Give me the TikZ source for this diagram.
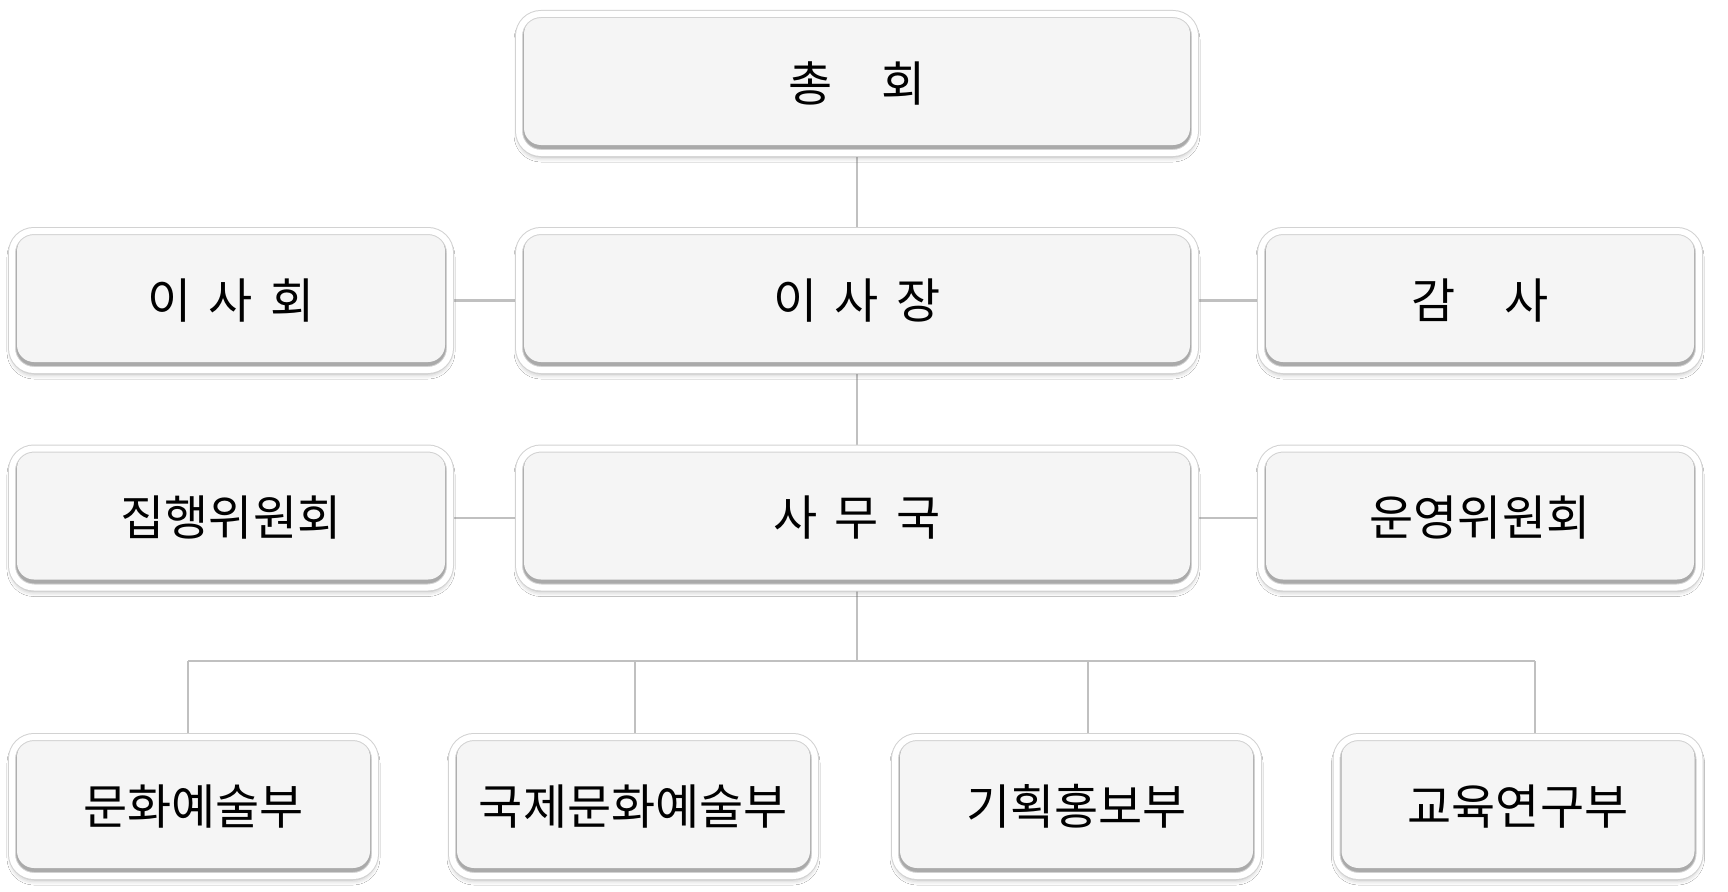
\documentclass[tikz,border=0pt]{standalone}
\usepackage{fontspec}
\newfontfamily\kr{Noto Sans CJK KR}[WordSpace=1.6]
\usetikzlibrary{shadows.blur,backgrounds}
\definecolor{boxfill}{RGB}{245,245,245}
\definecolor{linegray}{RGB}{192,192,192}
\definecolor{rimgray}{RGB}{210,210,210}
\definecolor{bevelgray}{RGB}{170,170,170}
\newcommand\orgfont{\kr\fontsize{48}{56}\selectfont}
\begin{document}
\begin{tikzpicture}[x=1pt,y=-1pt,
  orgbox/.style={draw=rimgray, line width=1pt, double=white, double distance=6pt,
    fill=boxfill, rounded corners=22pt, inner sep=0pt, minimum height=139pt,
    font=\orgfont, text=black,
    blur shadow={shadow xshift=0pt,shadow yshift=-4pt,shadow blur radius=5pt,shadow opacity=32},
    path picture={
      \fill[bevelgray] (path picture bounding box.south west) rectangle (path picture bounding box.north east);
      \fill[boxfill, rounded corners=17pt] ([xshift=5pt,yshift=8pt]path picture bounding box.south west) rectangle ([xshift=-5pt,yshift=-3pt]path picture bounding box.north east);
    }},
  widebox/.style={orgbox, minimum width=676pt},
  sidebox/.style={orgbox, minimum width=438pt},
  deptbox/.style={orgbox, minimum width=363pt},
  conn/.style={draw=linegray, line width=2.2pt}]
\useasboundingbox (0,0) rectangle (1728,891);

\node[widebox] (chonghoe) at (857,83.5) {총　회};
\node[sidebox] (isahoe) at (231,300.5) {이 사 회};
\node[widebox] (isajang) at (857,300.5) {이 사 장};
\node[sidebox] (gamsa) at (1480,300.5) {감　사};
\node[sidebox] (jiphaeng) at (231,518) {집행위원회};
\node[widebox] (samuguk) at (857,518) {사 무 국};
\node[sidebox] (unyeong) at (1480,518) {운영위원회};
\node[deptbox] (b1) at (193.5,806.5) {문화예술부};
\node[deptbox] (b2) at (633.5,806.5) {국제문화예술부};
\node[deptbox] (b3) at (1076.5,806.5) {기획홍보부};
\node[deptbox] (b4) at (1518,806.5) {교육연구부};

\coordinate (d1) at (188,661);
\coordinate (d2) at (635,661);
\coordinate (d3) at (1088,661);
\coordinate (d4) at (1535,661);
\coordinate (hub) at (857,661);

\begin{pgfonlayer}{background}
  \fill[white] (0,0) rectangle (1728,891);
  \draw[conn] (chonghoe) -- (isajang);
  \draw[conn] (isajang) -- (samuguk);
  \draw[conn] (isahoe) -- (isajang);
  \draw[conn] (isajang) -- (gamsa);
  \draw[conn] (jiphaeng) -- (samuguk);
  \draw[conn] (samuguk) -- (unyeong);
  \draw[conn] (samuguk) -- (hub);
  \draw[conn] (d1) -- (d4);
  \draw[conn] (d1) -- (d1 |- b1.north);
  \draw[conn] (d2) -- (d2 |- b2.north);
  \draw[conn] (d3) -- (d3 |- b3.north);
  \draw[conn] (d4) -- (d4 |- b4.north);
\end{pgfonlayer}
\end{tikzpicture}
\end{document}
